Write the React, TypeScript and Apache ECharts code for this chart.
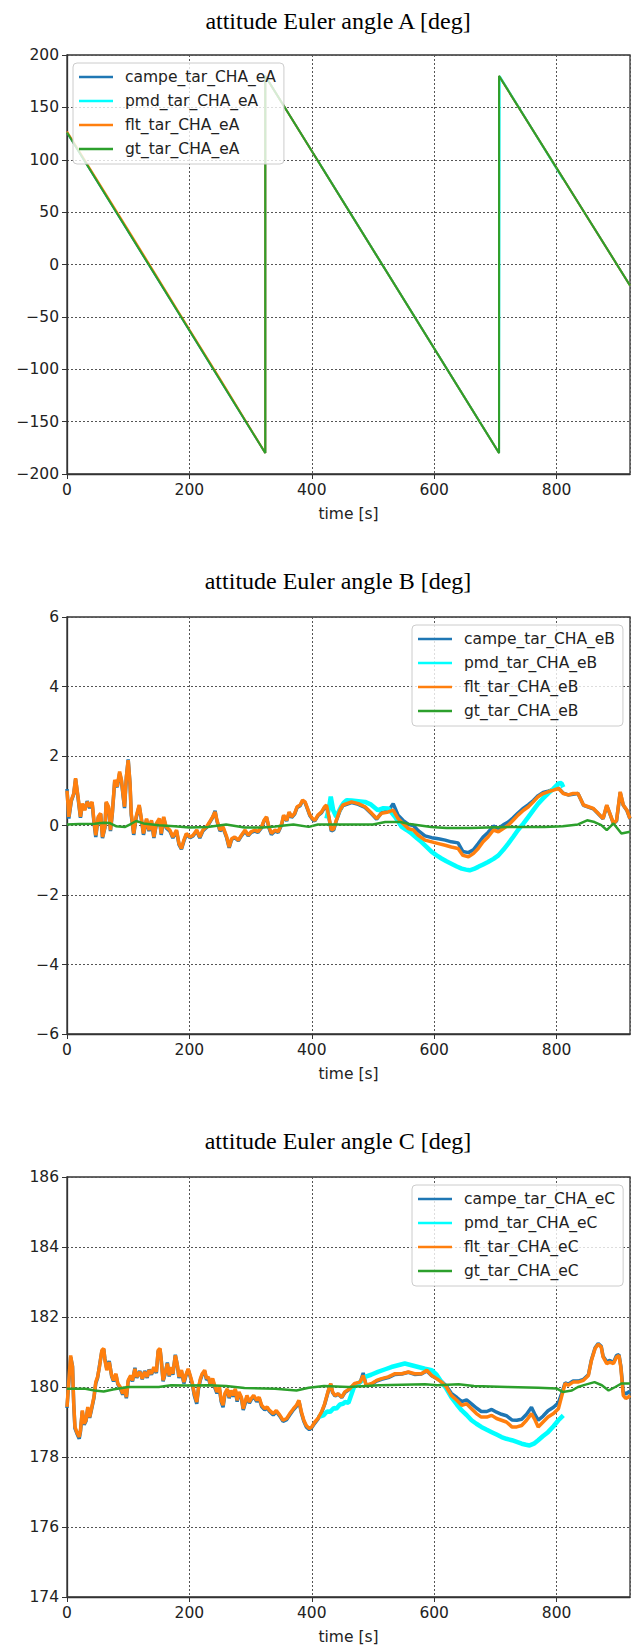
import React, { useEffect, useRef } from "react";
import * as echarts from "echarts";

// ---------- text ----------
const chartTitles = [
  "attitude Euler angle A [deg]",
  "attitude Euler angle B [deg]",
  "attitude Euler angle C [deg]",
];
const xAxisName = "time [s]";
const namesA = ["campe_tar_CHA_eA", "pmd_tar_CHA_eA", "flt_tar_CHA_eA", "gt_tar_CHA_eA"];
const namesB = ["campe_tar_CHA_eB", "pmd_tar_CHA_eB", "flt_tar_CHA_eB", "gt_tar_CHA_eB"];
const namesC = ["campe_tar_CHA_eC", "pmd_tar_CHA_eC", "flt_tar_CHA_eC", "gt_tar_CHA_eC"];

// ---------- axis ranges [min, max, interval] ----------
const xRange = [0, 920, 200];
const yRangeA = [-200, 200, 50];
const yRangeB = [-6, 6, 2];
const yRangeC = [174, 186, 2];

// ---------- chart A ----------
const timeA = [0, 324, 324, 706, 706, 920];
const campeA = [126, -180, 180, -180, 180, -20];
const gtA = [126, -180, 180, -180, 180, -20];
const fltTimeA = [0, 100, 200, 250, 324, 324, 706, 706, 920];
const fltA = [127, 33, -62, -109, -180, 180, -180, 180, -20];
const pmdTimeA = [410, 706, 707, 811];
const pmdA = [99, -180, 180, 81];

// ---------- chart B ----------
const timeB = [
  0, 3, 7, 11, 14, 18, 22, 25, 29, 33,
  37, 41, 44, 47, 51, 55, 58, 62, 64, 68,
  71, 74, 78, 82, 86, 89, 92, 94, 97, 100,
  103, 105, 109, 113, 118, 122, 125, 130, 134, 138,
  142, 146, 151, 154, 158, 162, 168, 173, 179, 183,
  187, 191, 195, 201, 206, 212, 217, 222, 228, 233,
  238, 242, 245, 250, 255, 261, 265, 269, 274, 280,
  285, 291, 296, 301, 307, 312, 318, 322, 326, 330,
  334, 340, 345, 351, 354, 359, 363, 367, 372, 376,
  381, 385, 389, 393, 397, 401, 405, 410, 416, 421,
  424, 428, 432, 436, 440, 446, 451, 457,
  465, 476, 487, 498, 506, 514, 525, 533, 541, 549,
  558, 566, 574, 585, 596, 607, 618, 628, 639, 647,
  656, 664, 672, 680, 688, 697, 705, 713, 721, 729,
  737, 746, 754, 762, 770, 778, 786, 795, 803, 811,
  819, 827, 835, 844, 852, 860, 868, 876, 882, 887,
  893, 898, 904, 909, 915, 920,
];
const fltB = [
  1.0, 0.25, 0.73, 0.92, 1.36, 0.83, 0.25, 0.63, 0.44, 0.68,
  0.54, 0.68, 0.15, -0.28, 0.25, 0.35, -0.33, -0.04, 0.68, 0.54,
  -0.13, 0.35, 1.31, 1.12, 1.55, 1.31, 0.83, 0.54, 1.4, 1.88,
  1.21, 0.35, -0.23, 0.25, 0.59, 0.15, -0.23, 0.2, -0.13, 0.15,
  -0.33, 0.06, 0.2, -0.23, 0.25, -0.04, -0.13, -0.33, -0.13, -0.52,
  -0.66, -0.42, -0.23, -0.33, -0.28, -0.13, -0.33, -0.13, -0.04, 0.1,
  0.25, 0.39, 0.15, -0.13, -0.04, -0.33, -0.62, -0.38, -0.33, -0.42,
  -0.28, -0.13, -0.28, -0.18, -0.13, -0.18, -0.04, 0.15, 0.25, -0.04,
  -0.23, -0.13, -0.18, 0.06, 0.3, 0.15, 0.39, 0.25, 0.35, 0.54,
  0.59, 0.73, 0.68, 0.49, 0.3, 0.2, 0.15, 0.3, 0.39, 0.54,
  0.59, 0.25, -0.13, -0.09, 0.15, 0.44, 0.59, 0.63,
  0.68, 0.63, 0.54, 0.35, 0.2, 0.35, 0.39, 0.44, 0.2, 0.06,
  -0.09, -0.13, -0.28, -0.42, -0.47, -0.52, -0.57, -0.62, -0.66, -0.86,
  -0.9, -0.81, -0.66, -0.47, -0.33, -0.13, -0.18, -0.09, 0.01, 0.15,
  0.3, 0.44, 0.54, 0.68, 0.83, 0.92, 0.97, 1.02, 1.07, 0.92,
  0.88, 0.92, 0.92, 0.59, 0.54, 0.49, 0.35, 0.2, 0.59, 0.35,
  0.06, 0.15, 0.97, 0.59, 0.44, 0.2,
];
const campeB = [
  1.05, 0.2, 0.7, 0.9, 1.33, 0.8, 0.22, 0.6, 0.46, 0.7,
  0.5, 0.66, 0.1, -0.33, 0.22, 0.33, -0.36, -0.06, 0.65, 0.5,
  -0.16, 0.33, 1.28, 1.1, 1.5, 1.28, 0.8, 0.5, 1.38, 1.9,
  1.18, 0.3, -0.27, 0.22, 0.56, 0.12, -0.27, 0.17, -0.16, 0.12,
  -0.36, 0.03, 0.17, -0.27, 0.22, -0.07, -0.16, -0.36, -0.16, -0.55,
  -0.68, -0.45, -0.26, -0.35, -0.3, -0.16, -0.36, -0.16, -0.06, 0.08,
  0.23, 0.42, 0.13, -0.16, -0.07, -0.36, -0.64, -0.4, -0.35, -0.44,
  -0.3, -0.16, -0.3, -0.2, -0.16, -0.2, -0.06, 0.13, 0.23, -0.07,
  -0.26, -0.16, -0.2, 0.03, 0.28, 0.13, 0.37, 0.23, 0.33, 0.52,
  0.57, 0.71, 0.66, 0.47, 0.28, 0.18, 0.13, 0.28, 0.37, 0.52,
  0.57, 0.22, -0.16, -0.12, 0.13, 0.42, 0.57, 0.61,
  0.66, 0.61, 0.52, 0.33, 0.18, 0.37, 0.42, 0.63, 0.3, 0.15,
  0.03, 0.0, -0.15, -0.3, -0.35, -0.38, -0.42, -0.47, -0.5, -0.75,
  -0.78, -0.7, -0.52, -0.33, -0.2, -0.02, -0.08, 0.02, 0.1, 0.22,
  0.36, 0.5, 0.6, 0.72, 0.86, 0.95, 0.99, 1.04, 1.08, 0.93,
  0.88, 0.9, 0.92, 0.58, 0.53, 0.48, 0.34, 0.19, 0.57, 0.34,
  0.05, 0.13, 0.95, 0.58, 0.43, 0.19,
];
const pmdTimeB = [
  424, 428, 431, 435, 440, 444, 448, 452, 457, 465,
  476, 487, 497, 508, 517, 525, 536, 547, 555, 563,
  571, 579, 588, 596, 604, 612, 620, 628, 637, 645,
  652, 658, 665, 672, 680, 688, 697, 705, 713, 721,
  729, 737, 746, 754, 762, 770, 778, 786, 795, 803,
  808, 811,
];
const pmdB = [
  0.2, 0.5, 0.83, 0.44, 0.25, 0.4, 0.54, 0.65, 0.73, 0.72,
  0.7, 0.68, 0.6, 0.44, 0.5, 0.49, 0.25, -0.04, -0.13, -0.23,
  -0.35, -0.47, -0.62, -0.76, -0.86, -0.95, -1.03, -1.1, -1.18, -1.24,
  -1.27, -1.29, -1.25, -1.19, -1.12, -1.05, -0.96, -0.86, -0.7, -0.52,
  -0.33, -0.13, 0.06, 0.25, 0.44, 0.63, 0.78, 0.92, 1.06, 1.21,
  1.22, 1.1,
];
const gtTimeB = [
  0, 20, 45, 60, 70, 80, 95, 105, 113, 125,
  150, 175, 200, 230, 260, 290, 320, 340, 370, 395,
  410, 450, 500, 520, 545, 560, 595, 620, 660, 700,
  730, 780, 810, 835, 850, 862, 873, 882, 893, 906,
  920,
];
const gtB = [
  0.03, 0.04, 0.05, 0.08, 0.07, -0.02, -0.04, 0.05, 0.13, 0.06,
  0.01, -0.02, -0.06, -0.04, 0.03, -0.06, -0.06, -0.03, 0.03, -0.04,
  0.03, 0.03, 0.03, 0.1, 0.1, 0.04, -0.04, -0.07, -0.07, -0.05,
  -0.04, -0.04, -0.02, 0.03, 0.15, 0.1, 0.01, -0.13, 0.06, -0.23,
  -0.18,
];

// ---------- chart C ----------
const timeC = [
  0, 3, 6, 9, 11, 13, 16, 20, 22, 25,
  28, 31, 34, 37, 40, 44, 47, 50, 53, 57,
  60, 62, 65, 69, 73, 76, 80, 83, 87, 91,
  94, 97, 100, 104, 107, 111, 114, 119, 123, 127,
  131, 134, 138, 142, 146, 149, 152, 154, 157, 160,
  164, 167, 170, 173, 177, 180, 183, 187, 191, 194,
  198, 202, 205, 208, 212, 215, 218, 221, 225, 228,
  231, 234, 238, 242, 245, 249, 252, 255, 258, 262,
  265, 268, 272, 275, 278, 281, 285, 288, 291, 294,
  298, 301, 305, 310, 314, 318, 323, 327, 331, 337,
  342, 348, 353, 359, 364, 370, 375, 379, 383, 387,
  391, 396, 400, 405, 410, 416, 421, 427, 431, 434,
  438, 443, 449, 454, 462,
  470, 479, 484, 489, 498, 506, 514, 525, 536, 547,
  558, 568, 579, 588, 596, 604, 612, 620, 628, 637,
  645, 653, 661, 669, 677, 686, 694, 702, 710, 718,
  727, 735, 743, 751, 759, 765, 770, 778, 786, 795,
  803, 808, 814, 819, 827, 835, 844, 852, 857, 863,
  868, 873, 876, 882, 887, 893, 898, 902, 905, 909,
  913, 917, 920,
];
const fltC = [
  179.43, 180.19, 180.9, 180.57, 179.52, 178.86, 178.71, 178.57, 178.76, 179.33,
  178.95, 179.05, 179.43, 179.14, 179.38, 179.71, 180.14, 180.29, 180.57, 181.05,
  181.1, 180.76, 180.48, 180.71, 180.33, 180.19, 180.38, 180.1, 180.0, 179.81,
  180.0, 179.71, 180.19, 180.33, 180.19, 180.52, 180.29, 180.43, 180.24, 180.43,
  180.29, 180.48, 180.38, 180.57, 180.43, 181.05, 181.1, 180.76, 180.19, 180.38,
  180.67, 180.33, 180.57, 180.38, 180.9, 180.67, 180.29, 180.48, 180.14, 180.33,
  180.52, 180.29, 180.1, 179.81, 179.57, 180.0, 180.24, 180.38, 180.48, 180.24,
  180.29, 180.1, 180.24, 180.0, 179.86, 180.0, 179.62, 179.48, 179.81, 179.95,
  179.71, 179.9, 179.76, 179.95, 179.62, 179.86, 179.71, 179.38, 179.57, 179.76,
  179.57, 179.67, 179.76, 179.62, 179.71, 179.48, 179.38, 179.43, 179.33, 179.24,
  179.33, 179.19, 179.05, 179.1, 179.24, 179.38, 179.48, 179.62, 179.29, 179.05,
  178.9, 178.81, 178.86, 179.0, 179.1, 179.29, 179.52, 179.9, 180.1, 179.86,
  179.76, 179.81, 179.71, 179.86, 179.95,
  180.1, 180.14, 180.33, 180.05, 180.1, 180.19, 180.24, 180.29, 180.38, 180.38,
  180.43, 180.38, 180.38, 180.48, 180.33, 180.24, 180.14, 180.0, 179.76, 179.62,
  179.48, 179.52, 179.38, 179.24, 179.14, 179.14, 179.19, 179.1, 179.05, 179.0,
  178.86, 178.86, 178.9, 179.05, 179.24, 179.05, 178.86, 179.0, 179.14, 179.24,
  179.38, 179.71, 180.1, 180.05, 180.14, 180.14, 180.19, 180.33, 180.76, 181.1,
  181.22, 181.14, 180.86, 180.67, 180.71, 180.67, 180.86, 180.9, 180.57, 179.76,
  179.67, 179.71, 179.76,
];
const campeC = [
  179.4, 180.15, 180.85, 180.6, 179.5, 178.82, 178.68, 178.52, 178.72, 179.3,
  178.92, 179.02, 179.4, 179.12, 179.35, 179.68, 180.1, 180.26, 180.6, 181.02,
  181.08, 180.8, 180.52, 180.74, 180.3, 180.16, 180.35, 180.08, 179.96, 179.78,
  179.97, 179.68, 180.16, 180.3, 180.16, 180.55, 180.26, 180.46, 180.22, 180.46,
  180.26, 180.5, 180.35, 180.54, 180.4, 181.02, 181.08, 180.78, 180.16, 180.35,
  180.7, 180.3, 180.54, 180.35, 180.92, 180.65, 180.26, 180.45, 180.1, 180.3,
  180.5, 180.26, 180.06, 179.76, 179.52, 179.97, 180.2, 180.35, 180.45, 180.2,
  180.26, 180.06, 180.2, 179.96, 179.82, 179.96, 179.58, 179.42, 179.78, 179.92,
  179.68, 179.86, 179.73, 179.92, 179.58, 179.82, 179.68, 179.34, 179.52, 179.72,
  179.54, 179.64, 179.73, 179.58, 179.68, 179.44, 179.35, 179.4, 179.3, 179.2,
  179.3, 179.16, 179.02, 179.07, 179.2, 179.35, 179.45, 179.6, 179.26, 179.02,
  178.86, 178.78, 178.84, 178.97, 179.08, 179.27, 179.5, 179.88, 180.08, 179.84,
  179.74, 179.8, 179.7, 179.84, 179.94,
  180.08, 180.12, 180.4, 180.03, 180.08, 180.17, 180.22, 180.27, 180.36, 180.37,
  180.42, 180.36, 180.37, 180.46, 180.32, 180.24, 180.16, 180.03, 179.82, 179.7,
  179.58, 179.63, 179.52, 179.4, 179.3, 179.3, 179.36, 179.28, 179.22, 179.18,
  179.06, 179.05, 179.08, 179.22, 179.42, 179.2, 179.05, 179.17, 179.32, 179.42,
  179.55, 179.8, 180.12, 180.08, 180.17, 180.17, 180.22, 180.35, 180.78, 181.12,
  181.24, 181.16, 180.88, 180.72, 180.76, 180.7, 180.9, 180.92, 180.6, 179.86,
  179.8, 179.85, 179.88,
];
const pmdTimeC = [
  410, 419, 425, 430, 436, 440, 446, 451, 454, 460,
  470, 480, 487, 497, 508, 519, 530, 541, 552, 563,
  574, 585, 596, 604, 612, 620, 628, 637, 645, 653,
  661, 669, 677, 686, 694, 702, 710, 718, 727, 735,
  743, 750, 756, 763, 770, 778, 786, 795, 803, 811,
];
const pmdC = [
  179.14, 179.19, 179.3, 179.29, 179.4, 179.38, 179.5, 179.52, 179.57, 179.55,
  180.05, 180.15, 180.29, 180.35, 180.43, 180.5, 180.57, 180.62, 180.67, 180.62,
  180.57, 180.52, 180.48, 180.35, 180.14, 179.95, 179.71, 179.5, 179.33, 179.2,
  179.05, 178.95, 178.86, 178.78, 178.71, 178.64, 178.57, 178.52, 178.48, 178.43,
  178.38, 178.35, 178.33, 178.38, 178.48, 178.6, 178.71, 178.88, 179.05, 179.19,
];
const gtTimeC = [
  0, 30, 45, 60, 75, 100, 150, 170, 195, 230,
  260, 290, 340, 375, 395, 420, 460, 510, 585, 605,
  640, 665, 720, 770, 800, 810, 825, 835, 846, 862,
  874, 885, 896, 906, 920,
];
const gtC = [
  179.95, 179.95, 179.9, 179.87, 179.93, 180.0, 180.0, 180.05, 180.04, 180.05,
  180.03, 179.97, 179.95, 179.9, 179.98, 180.03, 180.0, 180.05, 180.08, 180.05,
  180.08, 180.03, 180.0, 179.98, 179.96, 179.86, 179.9, 180.0, 180.06, 180.14,
  180.05, 179.9, 180.0, 180.1, 180.1,
];

// ---------- colours ----------
const COLORS = ["#1f77b4", "#00ffff", "#ff7f0e", "#2ca02c"];
const FONT = "DejaVu Sans";

const pairs = (t: number[], v: number[]) => t.map((x, i) => [x, v[i]]);
const minus = (v: number) => String(v).replace("-", "\u2212");

export default function App() {
  const ref = useRef<HTMLDivElement>(null);
  useEffect(() => {
    document.body.style.margin = "0";
    if (!ref.current) return;
    const chart = echarts.init(ref.current, undefined, { renderer: "svg" });

    const grids = [
      { left: 67, top: 55, width: 563, height: 419 },
      { left: 67, top: 617, width: 563, height: 417 },
      { left: 67, top: 1177, width: 563, height: 420 },
    ];
    const yRanges = [yRangeA, yRangeB, yRangeC];
    const titleTops = [9, 569, 1129];
    const legendPos = [
      { left: 73, top: 63 },
      { left: 412, top: 625 },
      { left: 412, top: 1185 },
    ];
    const allNames = [namesA, namesB, namesC];

    const seriesData = [
      [pairs(timeA, campeA), pairs(pmdTimeA, pmdA), pairs(fltTimeA, fltA), pairs(timeA, gtA)],
      [pairs(timeB, campeB), pairs(pmdTimeB, pmdB), pairs(timeB, fltB), pairs(gtTimeB, gtB)],
      [pairs(timeC, campeC), pairs(pmdTimeC, pmdC), pairs(timeC, fltC), pairs(gtTimeC, gtC)],
    ];
    const widths = [
      [2, 2, 2, 2],
      [3.5, 4.5, 3.5, 2.5],
      [3.5, 4.5, 3.5, 2.5],
    ];

    const series: any[] = [];
    seriesData.forEach((group, gi) => {
      group.forEach((data, si) => {
        series.push({
          type: "line",
          name: allNames[gi][si],
          xAxisIndex: gi,
          yAxisIndex: gi,
          data,
          showSymbol: false,
          symbol: "none",
          color: COLORS[si],
          lineStyle: { color: COLORS[si], width: widths[gi][si] },
          z: 2 + si * 0.01,
        });
      });
    });

    const option: any = {
      animation: false,
      backgroundColor: "#ffffff",
      title: chartTitles.map((text, i) => ({
        text,
        left: 338,
        top: titleTops[i],
        textAlign: "center",
        padding: 0,
        textStyle: {
          fontFamily: "Liberation Serif",
          fontSize: 24,
          fontWeight: "normal",
          color: "#000",
        },
      })),
      legend: allNames.map((names, i) => ({
        data: names,
        ...legendPos[i],
        orient: "vertical",
        icon: "rect",
        itemWidth: 34,
        itemHeight: 2.5,
        itemGap: 6,
        padding: [5, 8, 6, 6],
        backgroundColor: "rgba(255,255,255,0.8)",
        borderColor: "#cccccc",
        borderWidth: 1,
        borderRadius: 4,
        selectedMode: false,
        textStyle: {
          fontFamily: FONT,
          fontSize: 15.5,
          color: "#222",
          lineHeight: 18,
          padding: [0, 0, 0, 7],
        },
      })),
      grid: grids.map((g) => ({
        ...g,
        show: true,
        borderColor: "#333",
        borderWidth: 1.3,
        backgroundColor: "transparent",
      })),
      xAxis: grids.map((_, i) => ({
        type: "value",
        gridIndex: i,
        min: xRange[0],
        max: xRange[1],
        interval: xRange[2],
        name: xAxisName,
        nameLocation: "middle",
        nameGap: 32,
        nameTextStyle: { fontFamily: FONT, fontSize: 15.5, color: "#222" },
        axisLine: { show: true, onZero: false, lineStyle: { color: "#333", width: 1.3 } },
        axisTick: { show: true, inside: false, length: 5, lineStyle: { color: "#333", width: 1 } },
        axisLabel: {
          fontFamily: FONT,
          fontSize: 15.5,
          color: "#222",
          margin: 8,
          showMaxLabel: false,
        },
        splitLine: { show: true, lineStyle: { color: "#555", type: [2, 2], width: 1 } },
      })),
      yAxis: yRanges.map((r, i) => ({
        type: "value",
        gridIndex: i,
        min: r[0],
        max: r[1],
        interval: r[2],
        axisLine: { show: true, onZero: false, lineStyle: { color: "#333", width: 1.3 } },
        axisTick: { show: true, inside: false, length: 5, lineStyle: { color: "#333", width: 1 } },
        axisLabel: {
          fontFamily: FONT,
          fontSize: 15.5,
          color: "#222",
          margin: 8,
          formatter: (v: number) => minus(v),
        },
        splitLine: { show: true, lineStyle: { color: "#555", type: [2, 2], width: 1 } },
      })),
      series,
    };
    chart.setOption(option);
    return () => chart.dispose();
  }, []);
  return <div ref={ref} style={{ width: 640, height: 1648 }} />;
}
